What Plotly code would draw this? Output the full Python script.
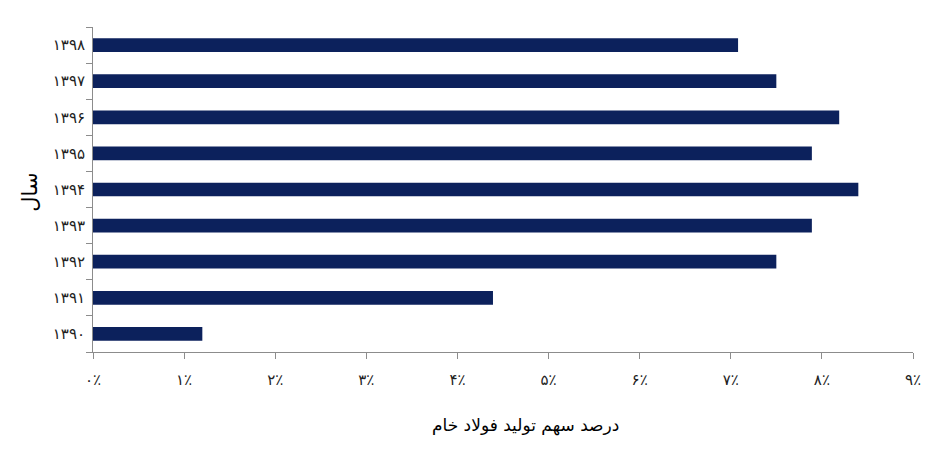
import plotly.graph_objects as go

years = ["۱۳۹۰", "۱۳۹۱", "۱۳۹۲", "۱۳۹۳", "۱۳۹۴", "۱۳۹۵", "۱۳۹۶", "۱۳۹۷", "۱۳۹۸"]
shares = [1.20, 4.39, 7.50, 7.89, 8.40, 7.89, 8.19, 7.50, 7.08]
tick_vals = [0, 1, 2, 3, 4, 5, 6, 7, 8, 9]
tick_text = ["۰٪", "۱٪", "۲٪", "۳٪", "۴٪", "۵٪", "۶٪", "۷٪", "۸٪", "۹٪"]
x_title = "درصد سهم تولید فولاد خام"
y_title = "سال"

fig = go.Figure(go.Bar(
    x=shares, y=years, orientation="h",
    marker=dict(color="#0c215c", line=dict(width=0)),
    hoverinfo="x+y",
))

fig.update_layout(
    width=937, height=464,
    margin=dict(l=85, r=32, t=19, b=120),
    paper_bgcolor="white", plot_bgcolor="white",
    bargap=0.62,
    showlegend=False,
    font=dict(family="DejaVu Sans, Noto Sans", size=15, color="black"),
    annotations=[
        dict(text=x_title, xref="paper", yref="paper", x=0.527, y=0,
             yshift=-73, showarrow=False, font=dict(size=17),
             xanchor="center", yanchor="middle"),
        dict(text=y_title, xref="paper", yref="paper", x=0, y=0.49,
             xshift=-63, showarrow=False, textangle=-90, font=dict(size=21),
             xanchor="center", yanchor="middle"),
    ],
)
fig.update_xaxes(
    range=[0, 9], tickvals=tick_vals, ticktext=tick_text,
    showgrid=False, zeroline=False, automargin=False,
    showline=True, linecolor="#8c8c8c", linewidth=1,
    ticks="outside", ticklen=6, tickcolor="#8c8c8c",
    ticklabelstandoff=8,
    tickfont=dict(size=15, color="#222222"),
)
fig.update_yaxes(
    type="category", categoryorder="array", categoryarray=years,
    showgrid=False, zeroline=False, automargin=False,
    showline=True, linecolor="#8c8c8c", linewidth=1,
    ticks="outside", ticklen=6, tickcolor="#8c8c8c", tickson="boundaries",
    ticklabelstandoff=4,
    tickfont=dict(size=15, color="#222222"),
)

fig.write_html("out.html")
